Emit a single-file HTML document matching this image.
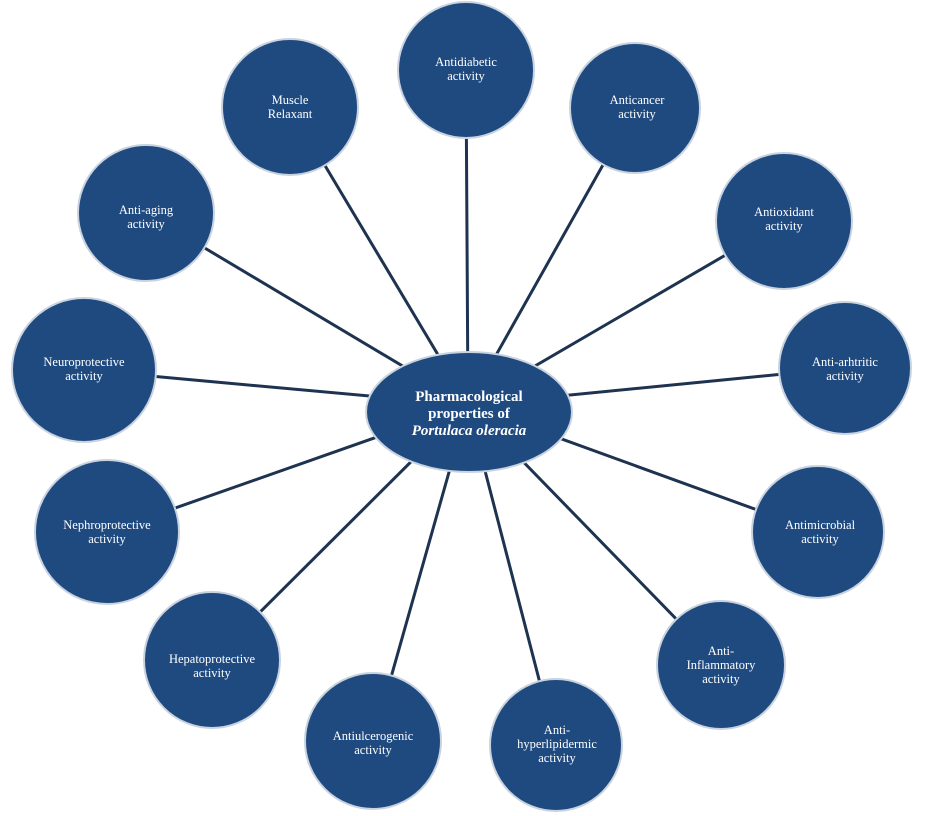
<!DOCTYPE html>
<html><head><style>
html,body{margin:0;padding:0;background:#fff;}
svg{display:block;}
text{font-family:"Liberation Serif",serif;fill:#fff;font-size:12.5px;text-anchor:middle;}
</style></head><body>
<svg width="940" height="816" viewBox="0 0 940 816">
<g stroke="#1e3350" stroke-width="3">
<line x1="468" y1="405" x2="466" y2="70"/>
<line x1="468" y1="405" x2="635" y2="108"/>
<line x1="468" y1="405" x2="784" y2="221"/>
<line x1="468" y1="405" x2="845" y2="368"/>
<line x1="468" y1="405" x2="818" y2="532"/>
<line x1="468" y1="405" x2="721" y2="665"/>
<line x1="468" y1="405" x2="556" y2="745"/>
<line x1="468" y1="405" x2="373" y2="741"/>
<line x1="468" y1="405" x2="212" y2="660"/>
<line x1="468" y1="405" x2="107" y2="532"/>
<line x1="468" y1="405" x2="84" y2="370"/>
<line x1="468" y1="405" x2="146" y2="213"/>
<line x1="468" y1="405" x2="290" y2="107"/>
</g>
<g fill="#1f4a80" stroke="#c9d3df" stroke-width="2">
<circle cx="466" cy="70" r="68"/>
<circle cx="635" cy="108" r="65"/>
<circle cx="784" cy="221" r="68"/>
<circle cx="845" cy="368" r="66"/>
<circle cx="818" cy="532" r="66"/>
<circle cx="721" cy="665" r="64"/>
<circle cx="556" cy="745" r="66"/>
<circle cx="373" cy="741" r="68"/>
<circle cx="212" cy="660" r="68"/>
<circle cx="107" cy="532" r="72"/>
<circle cx="84" cy="370" r="72"/>
<circle cx="146" cy="213" r="68"/>
<circle cx="290" cy="107" r="68"/>
<ellipse cx="469" cy="412" rx="103" ry="60"/>
</g>
<text x="466" y="66">Antidiabetic</text><text x="466" y="80">activity</text>
<text x="637" y="104">Anticancer</text><text x="637" y="118">activity</text>
<text x="784" y="216">Antioxidant</text><text x="784" y="230">activity</text>
<text x="845" y="366">Anti-arhtritic</text><text x="845" y="380">activity</text>
<text x="820" y="529">Antimicrobial</text><text x="820" y="543">activity</text>
<text x="721" y="655">Anti-</text><text x="721" y="669">Inflammatory</text><text x="721" y="683">activity</text>
<text x="557" y="734">Anti-</text><text x="557" y="748">hyperlipidermic</text><text x="557" y="762">activity</text>
<text x="373" y="740">Antiulcerogenic</text><text x="373" y="754">activity</text>
<text x="212" y="663">Hepatoprotective</text><text x="212" y="677">activity</text>
<text x="107" y="529">Nephroprotective</text><text x="107" y="543">activity</text>
<text x="84" y="366">Neuroprotective</text><text x="84" y="380">activity</text>
<text x="146" y="214">Anti-aging</text><text x="146" y="228">activity</text>
<text x="290" y="104">Muscle</text><text x="290" y="118">Relaxant</text>
<text x="469" y="401" style="font-size:15px;font-weight:bold">Pharmacological</text>
<text x="469" y="418" style="font-size:15px;font-weight:bold">properties of</text>
<text x="469" y="435" style="font-size:15px;font-weight:bold;font-style:italic">Portulaca oleracia</text>
</svg>
</body></html>
